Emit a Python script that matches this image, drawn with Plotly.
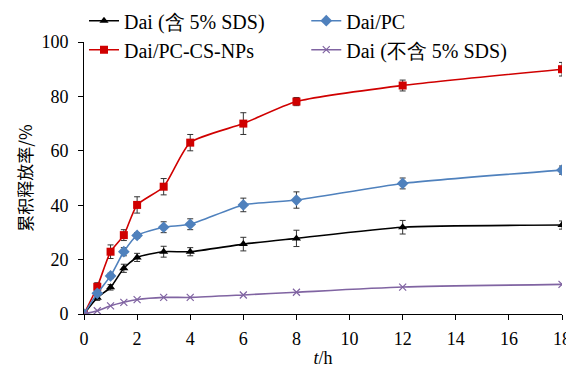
import plotly.graph_objects as go

t = [0, 0.5, 1, 1.5, 2, 3, 4, 6, 8, 12, 18]

dai_sds = [0, 6.0, 9.8, 16.8, 20.8, 22.9, 22.9, 25.7, 27.8, 31.9, 32.7]
dai_sds_err = [0, 1.0, 1.0, 1.5, 1.5, 2.0, 1.5, 2.5, 3.0, 2.5, 1.5]

dai_pc = [0, 7.6, 14.0, 22.9, 28.9, 31.9, 33.0, 40.1, 41.9, 48.0, 52.9]
dai_pc_err = [0, 1.0, 1.0, 1.5, 1.0, 2.0, 2.0, 2.5, 3.0, 2.0, 1.5]

dai_np = [0, 10.0, 22.9, 29.0, 40.1, 46.8, 63.0, 70.0, 78.1, 84.0, 90.0]
dai_np_err = [0, 1.5, 2.5, 2.0, 3.0, 3.0, 3.0, 4.0, 1.5, 2.0, 2.5]

dai_no = [0, 1.2, 3.0, 4.3, 5.3, 6.1, 6.1, 7.0, 8.0, 9.9, 10.9]

names = ["Dai (含 5% SDS)", "Dai/PC", "Dai/PC-CS-NPs", "Dai (不含 5% SDS)"]

FONT = "'Liberation Serif', 'DejaVu Serif', serif"

def err(v):
    return dict(type="data", array=v, visible=True, color="#333333", thickness=1, width=3)

fig = go.Figure()
fig.add_trace(go.Scatter(x=t, y=dai_sds, name=names[0], mode="lines+markers",
                         line=dict(color="#000000", width=1.6, shape="spline", smoothing=0.6),
                         marker=dict(symbol="triangle-up", size=8, color="#000000"),
                         error_y=err(dai_sds_err), legend="legend", legendgroup="a"))
fig.add_trace(go.Scatter(x=t, y=dai_np, name=names[2], mode="lines+markers",
                         line=dict(color="#D00000", width=1.6, shape="spline", smoothing=0.6),
                         marker=dict(symbol="square", size=8, color="#D00000"),
                         error_y=err(dai_np_err), legend="legend", legendgroup="b"))
fig.add_trace(go.Scatter(x=t, y=dai_pc, name=names[1], mode="lines+markers",
                         line=dict(color="#4F81BD", width=1.6, shape="spline", smoothing=0.6),
                         marker=dict(symbol="diamond", size=9, color="#4F81BD"),
                         error_y=err(dai_pc_err), legend="legend2", legendgroup="c"))
fig.add_trace(go.Scatter(x=t, y=dai_no, name=names[3], mode="lines+markers",
                         line=dict(color="#8064A2", width=1.6, shape="spline", smoothing=0.6),
                         marker=dict(symbol="x-thin", size=7, color="#8064A2",
                                     line=dict(color="#8064A2", width=1.2)),
                         legend="legend2", legendgroup="d"))

legend_common = dict(font=dict(family=FONT, size=20, color="#000000"),
                     bgcolor="rgba(0,0,0,0)", tracegroupgap=0, itemwidth=30,
                     xanchor="left", yanchor="top", orientation="v")

# page body has an 8px default margin, so the figure is shifted by 8px
fig.update_layout(
    width=566, height=360,
    margin=dict(l=76, r=12, t=34, b=54, autoexpand=False),
    paper_bgcolor="white", plot_bgcolor="white",
    font=dict(family=FONT, size=18, color="#000000"),
    legend=dict(x=0.0, y=1.15, **legend_common),
    legend2=dict(x=0.465, y=1.15, **legend_common),
    xaxis=dict(range=[0, 18], tickvals=[0, 2, 4, 6, 8, 10, 12, 14, 16, 18],
               showline=True, linecolor="#000000", linewidth=1,
               ticks="outside", ticklen=5, tickcolor="#000000",
               showgrid=False, zeroline=False, ticklabelstandoff=3,
               tickfont=dict(family=FONT, size=18),
               title=dict(text="<i>t</i>/h", font=dict(family=FONT, size=18), standoff=8)),
    yaxis=dict(range=[0, 100], tickvals=[0, 20, 40, 60, 80, 100],
               showline=True, linecolor="#000000", linewidth=1,
               ticks="outside", ticklen=5, tickcolor="#000000",
               showgrid=False, zeroline=False, ticklabelstandoff=6,
               tickfont=dict(family=FONT, size=18),
               title=dict(text="累积释放率/%", font=dict(family="Noto Sans CJK SC", size=17), standoff=4)),
)

fig.write_html("out.html")
